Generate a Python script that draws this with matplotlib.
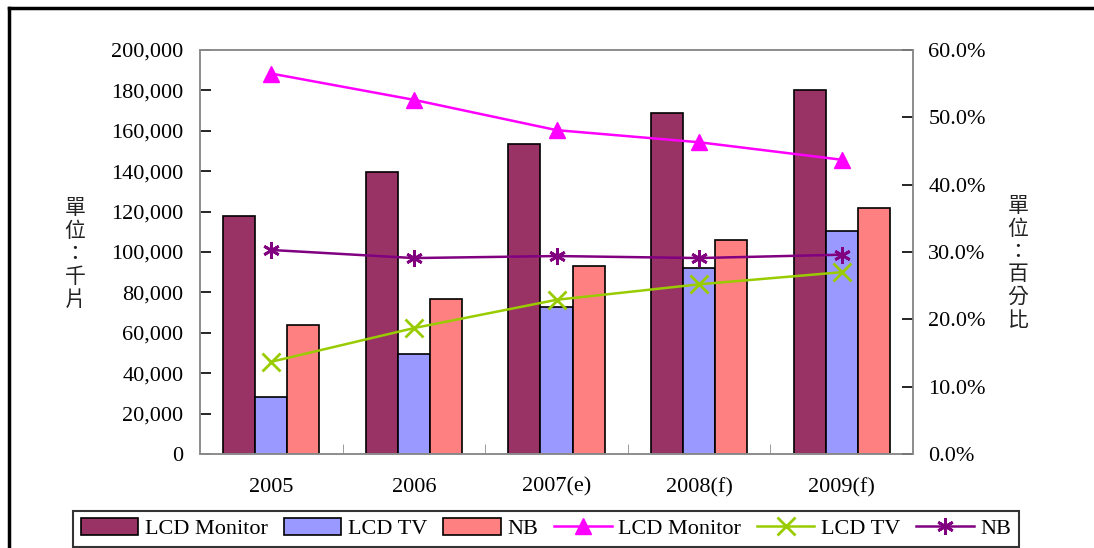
import matplotlib.pyplot as plt
import numpy as np
from matplotlib.lines import Line2D
from matplotlib.patches import Patch
from matplotlib.ticker import FuncFormatter

plt.rcParams["font.family"] = ["Liberation Serif", "Noto Sans CJK TC"]

# Shipments (thousand units) and share of total by year
years = ["2005", "2006", "2007(e)", "2008(f)", "2009(f)"]
monitor_units = [118000, 139500, 153500, 169000, 180000]
tv_units = [28200, 49500, 73000, 92200, 110500]
nb_units = [64000, 76700, 93100, 106000, 122000]

monitor_share = [56.5, 52.6, 48.1, 46.3, 43.7]
tv_share = [13.7, 18.7, 22.9, 25.2, 27.0]
nb_share = [30.3, 29.1, 29.4, 29.1, 29.6]

c_monitor = "#993366"
c_tv = "#9999FF"
c_nb = "#FF8080"
c_line_monitor = "#FF00FF"
c_line_tv = "#99CC00"
c_line_nb = "#800080"
spine_gray = "#8c8c8c"

fig = plt.figure(figsize=(10.94, 5.48), dpi=100)
ax = fig.add_axes([200 / 1094, 1 - 454 / 548, 713 / 1094, 404 / 548])
ax2 = ax.twinx()

x = np.arange(len(years))
w = 0.225
bar_kw = dict(width=w, edgecolor="black", linewidth=1.2, zorder=2)
ax.bar(x - w, monitor_units, color=c_monitor, **bar_kw)
ax.bar(x, tv_units, color=c_tv, **bar_kw)
ax.bar(x + w, nb_units, color=c_nb, **bar_kw)

ax.set_xlim(-0.5, len(years) - 0.5)
ax.set_ylim(0, 200000)
ax.set_yticks(np.arange(0, 200001, 20000))
ax.yaxis.set_major_formatter(FuncFormatter(lambda v, p: f"{int(v):,}"))
ax.set_xticks(x)
ax.set_xticklabels(years)
ax.set_xticks(np.arange(0.5, len(years) - 0.5), minor=True)
ax.tick_params(axis="x", which="major", length=0, pad=17, labelsize=16)
ax.tick_params(axis="x", which="minor", direction="in", length=7, color=spine_gray)
ax.tick_params(axis="y", direction="in", length=8, width=1.2, pad=12, labelsize=16)

# share lines on the right axis
line_kw = dict(linewidth=1.8, zorder=3)
ax2.plot(x, monitor_share, color=c_line_monitor, marker="^", markersize=11, **line_kw)
ax2.plot(x, tv_share, color=c_line_tv, marker="x", markersize=13, markeredgewidth=2, **line_kw)
ax2.plot(x, nb_share, color=c_line_nb, marker=(6, 2, 0), markersize=12, markeredgewidth=2, **line_kw)
ax2.set_ylim(0, 60)
ax2.set_yticks(np.arange(0, 61, 10))
ax2.yaxis.set_major_formatter(FuncFormatter(lambda v, p: f"{v:.1f}%"))
ax2.tick_params(axis="y", direction="in", length=8, width=1.2, pad=11, labelsize=16)

for a in (ax, ax2):
    for s in a.spines.values():
        s.set_color(spine_gray)
        s.set_linewidth(1.2)

fig.text(75 / 1094, 1 - 254 / 548, "\n".join("單位：千片"), ha="center", va="center",
         fontsize=15, linespacing=1.05, family=["Noto Sans CJK TC"], color="#222222")
fig.text(1018 / 1094, 1 - 263 / 548, "\n".join("單位：百分比"), ha="center", va="center",
         fontsize=15, linespacing=1.05, family=["Noto Sans CJK TC"], color="#222222")

handles = [
    Patch(facecolor=c_monitor, edgecolor="black", linewidth=1.2),
    Patch(facecolor=c_tv, edgecolor="black", linewidth=1.2),
    Patch(facecolor=c_nb, edgecolor="black", linewidth=1.2),
    Line2D([], [], color=c_line_monitor, marker="^", markersize=11, linewidth=1.8),
    Line2D([], [], color=c_line_tv, marker="x", markersize=13, markeredgewidth=2, linewidth=1.8),
    Line2D([], [], color=c_line_nb, marker=(6, 2, 0), markersize=12, markeredgewidth=2, linewidth=1.8),
]
labels = ["LCD Monitor", "LCD TV", "NB", "LCD Monitor", "LCD TV", "NB"]
leg = fig.legend(handles, labels, ncol=6, loc="lower center",
                 bbox_to_anchor=(546 / 1094, 1 / 548), fontsize=16, frameon=True,
                 fancybox=False, edgecolor="black", handlelength=2.6, handleheight=0.75,
                 handletextpad=0.3, columnspacing=0.7, borderpad=0.35, borderaxespad=0)
leg.get_frame().set_linewidth(1.5)
for t in leg.get_texts():
    t.set_fontfamily("Liberation Serif")

# outer border along the top and left edges
fig.add_artist(Line2D([9 / 1094, 9 / 1094], [0, 1 - 8 / 548], color="black", linewidth=2.5,
                      transform=fig.transFigure))
fig.add_artist(Line2D([9 / 1094, 1], [1 - 8 / 548, 1 - 8 / 548], color="black", linewidth=2.5,
                      transform=fig.transFigure))

fig.savefig("out.png", dpi=100)
